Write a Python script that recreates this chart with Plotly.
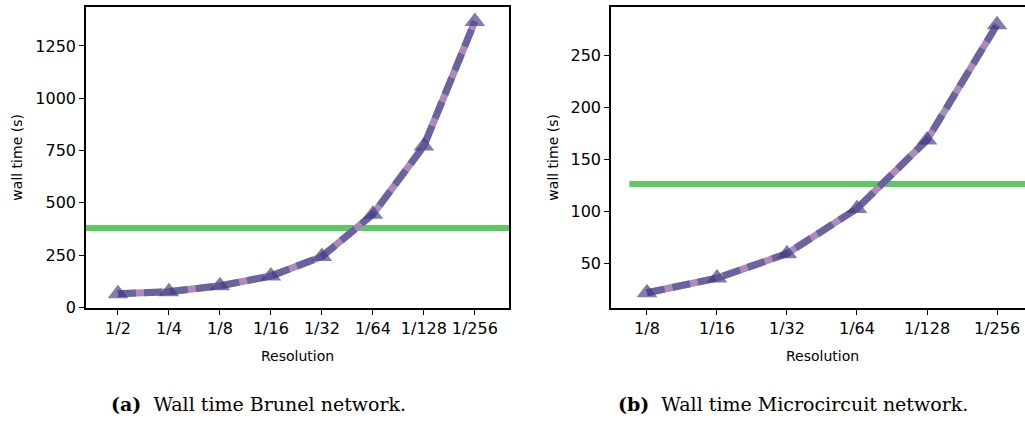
import plotly.graph_objects as go

# Data
res_a = ["1/2", "1/4", "1/8", "1/16", "1/32", "1/64", "1/128", "1/256"]
wall_a = [65, 75, 103, 150, 243, 445, 772, 1367]
ref_a = 379

res_b = ["1/8", "1/16", "1/32", "1/64", "1/128", "1/256"]
wall_b = [21.7, 35.8, 59.4, 102.8, 168.9, 280]
ref_b = 126.4

W, H = 1025, 431
def px(x): return x / W
def py(y): return 1 - y / H

fig = go.Figure()

PINK = "rgba(170,132,180,0.95)"
DARK = "rgba(100,94,155,0.9)"
MARK = "rgba(60,55,130,0.65)"
GREEN = "rgb(94,200,98)"

def add_series(xs, ys, ref, xa, ya, xr):
    ix = list(range(len(xs)))
    fig.add_trace(go.Scatter(x=[xr[0], xr[1]], y=[ref, ref], mode="lines",
                             line=dict(color=GREEN, width=6), xaxis=xa, yaxis=ya,
                             showlegend=False, hoverinfo="skip"))
    fig.add_trace(go.Scatter(x=ix, y=ys, mode="lines", line=dict(color=PINK, width=7),
                             xaxis=xa, yaxis=ya, showlegend=False))
    fig.add_trace(go.Scatter(x=ix, y=ys, mode="lines", line=dict(color=DARK, width=7, dash="18px,8px"),
                             xaxis=xa, yaxis=ya, showlegend=False))
    fig.add_trace(go.Scatter(x=ix, y=ys, mode="markers",
                             marker=dict(symbol="triangle-up", size=18, color=MARK, line=dict(width=0)),
                             xaxis=xa, yaxis=ya, showlegend=False))

xr_a = [-0.627, 7.67]
xr_b = [-0.514, 5.4]
add_series(res_a, wall_a, ref_a, "x", "y", xr_a)
add_series(res_b, wall_b, ref_b, "x2", "y2", [-0.25, 6.0])

tickfont = dict(family="DejaVu Sans", size=16, color="black")
common_ax = dict(showgrid=False, zeroline=False, ticks="outside", ticklen=5, tickwidth=1.2,
                 tickcolor="black", showline=True, linecolor="black", linewidth=1.6,
                 tickfont=tickfont)

ydom = [py(315), py(7)]
fig.update_layout(
    width=W, height=H, autosize=False, margin=dict(l=0, r=0, t=0, b=0),
    paper_bgcolor="white", plot_bgcolor="white",
    xaxis=dict(domain=[px(86), px(509)], range=xr_a, tickmode="array",
               tickvals=list(range(len(res_a))), ticktext=res_a, mirror=True, anchor="y", **common_ax),
    yaxis=dict(domain=ydom, range=[-5, 1437], tickvals=[0, 250, 500, 750, 1000, 1250],
               mirror=True, anchor="x", **common_ax),
    xaxis2=dict(domain=[px(611), 1.0], range=xr_b, tickmode="array",
                tickvals=list(range(len(res_b))), ticktext=res_b, mirror=True, anchor="y2", **common_ax),
    yaxis2=dict(domain=ydom, range=[6.6, 297.2], tickvals=[50, 100, 150, 200, 250],
                mirror=False, anchor="x2", **common_ax),
)

lab = dict(family="DejaVu Sans", size=14, color="black")
cap = dict(family="DejaVu Serif", size=19, color="black")
ann = [
    dict(x=px(297), y=py(364), text="Resolution", font=lab),
    dict(x=px(822), y=py(364), text="Resolution", font=lab),
    dict(x=px(17), y=py(161), text="wall time (s)", font=lab, textangle=-90),
    dict(x=px(553), y=py(161), text="wall time (s)", font=lab, textangle=-90),
    dict(x=px(258), y=py(413), text="<b>(a)</b>  Wall time Brunel network.", font=cap),
    dict(x=px(793), y=py(413), text="<b>(b)</b>  Wall time Microcircuit network.", font=cap),
]
for a in ann:
    a.update(xref="paper", yref="paper", showarrow=False, xanchor="center", yanchor="middle")
fig.update_layout(annotations=ann)

fig.write_html("out.html", config={"displayModeBar": False, "responsive": False},
               post_script="document.body.style.margin='0px';document.body.style.overflow='hidden';")
